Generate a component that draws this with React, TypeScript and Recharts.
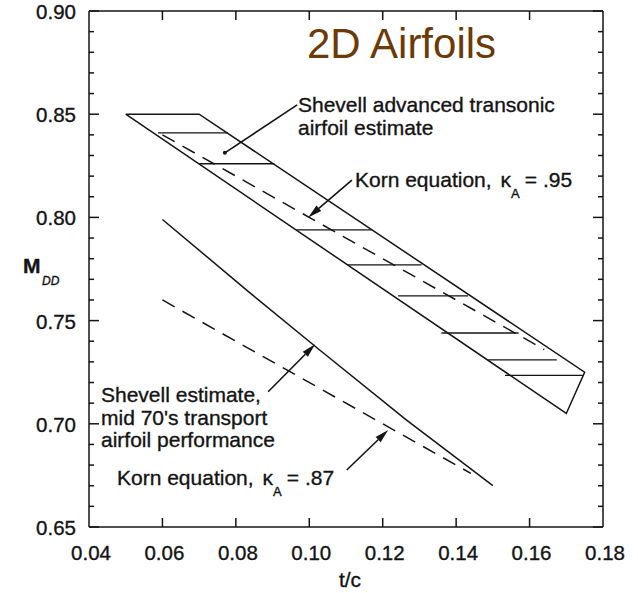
import React from 'react';
import { ComposedChart, Line, XAxis, YAxis, ReferenceLine, Customized } from 'recharts';

const FONT = "'Liberation Sans', Arial, Helvetica, sans-serif";
const INK = '#141414';

// axis ticks
const xTicks = [0.04, 0.06, 0.08, 0.1, 0.12, 0.14, 0.16, 0.18];
const yTicks = [
  0.65, 0.66, 0.67, 0.68, 0.69, 0.7, 0.71, 0.72, 0.73, 0.74, 0.75, 0.76, 0.77,
  0.78, 0.79, 0.8, 0.81, 0.82, 0.83, 0.84, 0.85, 0.86, 0.87, 0.88, 0.89, 0.9,
];

// Shevell advanced transonic airfoil estimate (band outline)
const shevellBand = [
  { tc: 0.05, m: 0.85 },
  { tc: 0.07, m: 0.85 },
  { tc: 0.175, m: 0.725 },
  { tc: 0.17, m: 0.705 },
  { tc: 0.05, m: 0.85 },
];

// hatch lines across the band
const hatchLevels = [0.841, 0.826, 0.794, 0.777, 0.762, 0.744, 0.731, 0.7235];
const hatchFrom = [0.0588, 0.07, 0.0965, 0.1105, 0.1242, 0.136, 0.1487, 0.1533];
const hatchTo = [0.0778, 0.0905, 0.117, 0.1306, 0.1432, 0.157, 0.1674, 0.1745];

// Korn equation curves
const korn95 = [
  { tc: 0.06, m: 0.84 },
  { tc: 0.164, m: 0.736 },
];
const korn87 = [
  { tc: 0.06, m: 0.76 },
  { tc: 0.144, m: 0.676 },
];

// Shevell estimate, mid 70's transport airfoil performance
const shevell70s = [
  { tc: 0.06, m: 0.799 },
  { tc: 0.084, m: 0.7632 },
  { tc: 0.103, m: 0.7355 },
  { tc: 0.1265, m: 0.7018 },
  { tc: 0.15, m: 0.67 },
];

const isMajor = (v: number) => Math.round(v * 100) % 5 === 0;

// scanned lettering is a little heavier than the plain face
const textInk = { fill: INK, stroke: INK, strokeWidth: 0.35 };

const BottomTick = (props: any) => {
  const { x, y, payload } = props;
  const v = payload.value as number;
  const inner = v > 0.041 && v < 0.179;
  return (
    <g>
      {inner && <line x1={x} y1={y} x2={x} y2={y - 9} stroke={INK} strokeWidth={1.5} />}
      <text x={x + 2} y={y + 33} textAnchor="middle" fontSize={20.5} fontFamily={FONT} {...textInk}>
        {v.toFixed(2)}
      </text>
    </g>
  );
};

const TopTick = (props: any) => {
  const { x, y, payload } = props;
  const v = payload.value as number;
  if (v < 0.041 || v > 0.179) return <g />;
  return <line x1={x} y1={y} x2={x} y2={y + 9} stroke={INK} strokeWidth={1.5} />;
};

const LeftTick = (props: any) => {
  const { x, y, payload } = props;
  const v = payload.value as number;
  const major = isMajor(v);
  return (
    <g>
      <line x1={x} y1={y} x2={x + (major ? 10 : 5)} y2={y} stroke={INK} strokeWidth={1.5} />
      {major && (
        <text x={x - 13} y={y + 8} textAnchor="end" fontSize={20.5} fontFamily={FONT} {...textInk}>
          {v.toFixed(2)}
        </text>
      )}
    </g>
  );
};

const RightTick = (props: any) => {
  const { x, y, payload } = props;
  const v = payload.value as number;
  const major = isMajor(v);
  return <line x1={x} y1={y} x2={x - (major ? 10 : 5)} y2={y} stroke={INK} strokeWidth={1.5} />;
};

// leader line with a filled arrowhead at the second point
const Arrow = (props: any) => {
  const { x1, y1, x2, y2 } = props;
  const a = Math.atan2(y2 - y1, x2 - x1);
  const len = 14;
  const half = 3.6;
  const bx = x2 - len * Math.cos(a);
  const by = y2 - len * Math.sin(a);
  const px = -Math.sin(a) * half;
  const py = Math.cos(a) * half;
  return (
    <g>
      <line x1={x1} y1={y1} x2={bx} y2={by} stroke={INK} strokeWidth={1.6} />
      <polygon points={`${x2},${y2} ${bx + px},${by + py} ${bx - px},${by - py}`} fill={INK} />
    </g>
  );
};

// leader line ending in a dot
const Pointer = (props: any) => {
  const { x1, y1, x2, y2 } = props;
  return (
    <g>
      <line x1={x1} y1={y1} x2={x2} y2={y2} stroke={INK} strokeWidth={1.6} />
      <circle cx={x2} cy={y2} r={2} fill={INK} />
    </g>
  );
};

// "Korn equation, κA = ..." with a subscripted A
const KornLabel = ({ x, y, k }: { x: number; y: number; k: string }) => (
  <text x={x} y={y}>
    Korn equation,
    <tspan dx={9}>κ</tspan>
    <tspan dy={11} fontSize={13}>A</tspan>
    <tspan dy={-11} dx={5}>= {k}</tspan>
  </text>
);

const Labels = () => (
  <g fontFamily={FONT}>
    <text x={307} y={58} fontSize={42} fill="#6b3a07">2D Airfoils</text>
    <g {...textInk} fontSize={21}>
      <text x={298} y={112}>Shevell advanced transonic</text>
      <text x={298} y={135}>airfoil estimate</text>
      <KornLabel x={355} y={187} k=".95" />
      <text x={101} y={402}>Shevell estimate,</text>
      <text x={101} y={425}>mid 70's transport</text>
      <text x={101} y={447}>airfoil performance</text>
      <KornLabel x={117} y={485} k=".87" />
      <text x={23} y={273} fontWeight={600}>M</text>
      <text x={42} y={285} fontSize={12} fontStyle="italic">DD</text>
      <text x={350} y={587} textAnchor="middle">t/c</text>
    </g>
  </g>
);

export default function App() {
  const lineProps = {
    dataKey: 'm',
    stroke: INK,
    strokeWidth: 1.5,
    dot: false,
    activeDot: false,
    isAnimationActive: false,
    type: 'linear' as const,
  };

  return (
    <div style={{ position: 'absolute', left: 0, top: 0, width: 638, height: 593, background: '#fff' }}>
      <ComposedChart width={638} height={593} margin={{ top: 6, right: 25, bottom: 0, left: 0 }}>
        <XAxis
          dataKey="tc"
          type="number"
          domain={[0.04, 0.18]}
          ticks={xTicks}
          interval={0}
          height={66}
          tickSize={0}
          tickMargin={0}
          tickLine={false}
          tick={BottomTick}
          axisLine={{ stroke: INK, strokeWidth: 1.5 }}
          allowDataOverflow
        />
        <XAxis
          xAxisId="top"
          orientation="top"
          dataKey="tc"
          type="number"
          domain={[0.04, 0.18]}
          ticks={xTicks}
          interval={0}
          height={5}
          tickSize={0}
          tickMargin={0}
          tickLine={false}
          tick={TopTick}
          axisLine={{ stroke: INK, strokeWidth: 1.5 }}
          allowDataOverflow
        />
        <YAxis
          type="number"
          domain={[0.65, 0.9]}
          ticks={yTicks}
          interval={0}
          width={89}
          tickSize={0}
          tickMargin={0}
          tickLine={false}
          tick={LeftTick}
          axisLine={{ stroke: INK, strokeWidth: 1.5 }}
          allowDataOverflow
        />
        <YAxis
          yAxisId="right"
          orientation="right"
          type="number"
          domain={[0.65, 0.9]}
          ticks={yTicks}
          interval={0}
          width={10}
          tickSize={0}
          tickMargin={0}
          tickLine={false}
          tick={RightTick}
          axisLine={{ stroke: INK, strokeWidth: 1.5 }}
          allowDataOverflow
        />

        <Line {...lineProps} data={shevellBand} />
        {hatchLevels.map((m, i) => (
          <Line
            key={'h' + i}
            {...lineProps}
            strokeWidth={1.3}
            data={[
              { tc: hatchFrom[i], m },
              { tc: hatchTo[i], m },
            ]}
          />
        ))}
        <Line {...lineProps} data={korn95} strokeDasharray="14 9" />
        <Line {...lineProps} data={korn87} strokeDasharray="14 9" />
        <Line {...lineProps} data={shevell70s} />

        <ReferenceLine
          segment={[{ x: 0.0967, y: 0.8545 }, { x: 0.077, y: 0.8313 }]}
          shape={Pointer}
        />
        <ReferenceLine
          segment={[{ x: 0.1116, y: 0.8181 }, { x: 0.0997, y: 0.8 }]}
          shape={Arrow}
        />
        <ReferenceLine
          segment={[{ x: 0.0888, y: 0.7155 }, { x: 0.1016, y: 0.7385 }]}
          shape={Arrow}
        />
        <ReferenceLine
          segment={[{ x: 0.1102, y: 0.6776 }, { x: 0.1215, y: 0.697 }]}
          shape={Arrow}
        />

        <Customized component={<Labels />} />
      </ComposedChart>
    </div>
  );
}
